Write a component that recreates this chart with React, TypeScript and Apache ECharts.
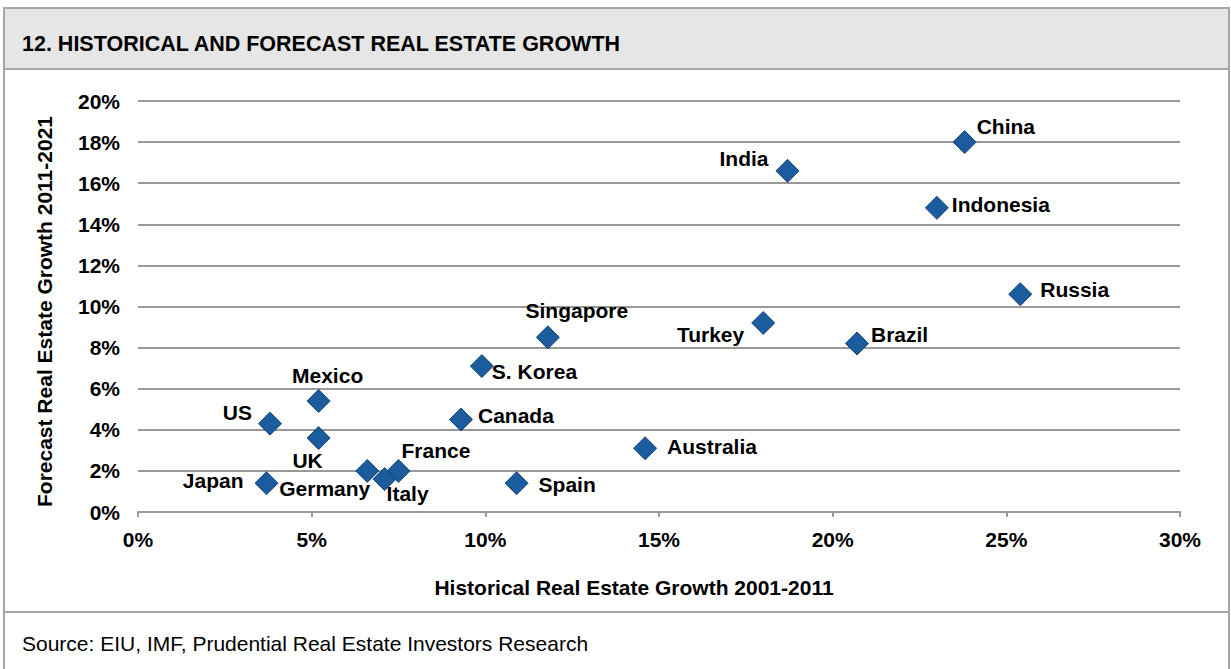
import React, { useEffect, useRef } from "react";
import * as echarts from "echarts";

const countries = ["China", "India", "Indonesia", "Russia", "Brazil", "Turkey", "Singapore", "S. Korea", "Canada", "Australia", "Spain", "Mexico", "US", "UK", "Japan", "Germany", "Italy", "France"];
const historical = [23.8, 18.7, 23.0, 25.4, 20.7, 18.0, 11.8, 9.9, 9.3, 14.6, 10.9, 5.2, 3.8, 5.2, 3.7, 6.6, 7.1, 7.5];
const forecast = [18.0, 16.6, 14.8, 10.6, 8.2, 9.2, 8.5, 7.1, 4.5, 3.1, 1.4, 5.4, 4.3, 3.6, 1.4, 2.0, 1.6, 2.0];
const xTicks = [0, 5, 10, 15, 20, 25, 30];
const yTicks = [0, 2, 4, 6, 8, 10, 12, 14, 16, 18, 20];

const title = "12. HISTORICAL AND FORECAST REAL ESTATE GROWTH";
const xName = "Historical Real Estate Growth 2001-2011";
const yName = "Forecast Real Estate Growth 2011-2021";
const source = "Source: EIU, IMF, Prudential Real Estate Investors Research";

// label placement: [align, dx, dy]
const labelLayout: Record<string, [string, number, number]> = {
  China: ["left", 12, -16],
  India: ["right", -19, -12],
  Indonesia: ["left", 15, -3],
  Russia: ["left", 20, -5],
  Brazil: ["left", 14, -9],
  Turkey: ["right", -19, 12],
  Singapore: ["center", 29, -27],
  "S. Korea": ["left", 10, 5],
  Canada: ["left", 17, -4],
  Australia: ["left", 22, -2],
  Spain: ["left", 22, 1],
  Mexico: ["center", 9, -26],
  US: ["right", -18, -11],
  UK: ["center", -11, 22],
  Japan: ["right", -23, -3],
  Germany: ["right", 3, 18],
  Italy: ["left", 2, 14],
  France: ["left", 3, -20],
};

const FONT = "'Liberation Sans', Arial, sans-serif";
const FS = 21;

export default function App() {
  const ref = useRef<HTMLDivElement>(null);
  useEffect(() => {
    if (!ref.current) return;
    const chart = echarts.init(ref.current, null, { renderer: "svg" });
    const data = countries.map((name, i) => {
      const [align, dx, dy] = labelLayout[name];
      return {
        name,
        value: [historical[i], forecast[i]],
        label: { align, offset: [dx, dy] },
      };
    });
    chart.setOption({
      animation: false,
      backgroundColor: "#ffffff",
      textStyle: { fontFamily: FONT },
      grid: { left: 138, right: 51, top: 101, bottom: 157, containLabel: false },
      xAxis: {
        type: "value",
        min: 0,
        max: 30,
        interval: 5,
        name: xName,
        nameLocation: "middle",
        nameGap: 65,
        nameTextStyle: {
          fontFamily: FONT,
          fontWeight: "bold",
          fontSize: FS,
          color: "#000",
          padding: [0, 50, 0, 0],
        },
        axisLine: { show: true, lineStyle: { color: "#999", width: 2 } },
        axisTick: { show: true, length: 5, inside: false, lineStyle: { color: "#999", width: 2 } },
        axisLabel: {
          formatter: (v: number) => (xTicks.includes(v) ? v + "%" : ""),
          fontFamily: FONT,
          fontWeight: "bold",
          fontSize: FS,
          color: "#000",
          margin: 17,
        },
        splitLine: { show: false },
      },
      yAxis: {
        type: "value",
        min: 0,
        max: 20,
        interval: 2,
        name: yName,
        nameLocation: "middle",
        nameGap: 83,
        nameTextStyle: {
          fontFamily: FONT,
          fontWeight: "bold",
          fontSize: FS,
          color: "#000",
          padding: [0, 10, 0, 0],
        },
        axisLine: { show: false },
        axisTick: { show: false },
        axisLabel: {
          formatter: (v: number) => (yTicks.includes(v) ? v + "%" : ""),
          fontFamily: FONT,
          fontWeight: "bold",
          fontSize: FS,
          color: "#000",
          margin: 18,
        },
        splitLine: { show: true, lineStyle: { color: "#999", width: 2 } },
      },
      series: [
        {
          type: "scatter",
          symbol: "diamond",
          symbolSize: 23,
          itemStyle: { color: "#1a5c9e", borderColor: "#1a4576", borderWidth: 1, opacity: 1 },
          label: {
            show: true,
            position: "inside",
            formatter: (p: any) => p.name,
            fontFamily: FONT,
            fontWeight: "bold",
            fontSize: FS,
            color: "#000",
            verticalAlign: "middle",
          },
          emphasis: { disabled: true },
          data,
        },
      ],
      graphic: [
        {
          type: "rect",
          z: -10,
          shape: { x: 4, y: 8, width: 1225, height: 60 },
          style: { fill: "#e6e6e6" },
          silent: true,
        },
        {
          type: "rect",
          z: 100,
          shape: { x: 4, y: 8, width: 1225, height: 662 },
          style: { fill: "none", stroke: "#a6a6a6", lineWidth: 2 },
          silent: true,
        },
        {
          type: "line",
          z: 100,
          shape: { x1: 4, y1: 69, x2: 1229, y2: 69 },
          style: { stroke: "#a6a6a6", lineWidth: 2 },
          silent: true,
        },
        {
          type: "line",
          z: 100,
          shape: { x1: 4, y1: 612, x2: 1229, y2: 612 },
          style: { stroke: "#a6a6a6", lineWidth: 2 },
          silent: true,
        },
        {
          type: "text",
          x: 22,
          y: 44,
          style: {
            text: title,
            font: `bold 21.5px ${FONT}`,
            fill: "#000",
            verticalAlign: "middle",
          },
          silent: true,
        },
        {
          type: "text",
          x: 22,
          y: 643,
          style: {
            text: source,
            font: `${FS}px ${FONT}`,
            fill: "#000",
            verticalAlign: "middle",
          },
          silent: true,
        },
      ],
    });
    return () => chart.dispose();
  }, []);
  return (
    <div
      ref={ref}
      style={{ position: "fixed", left: 0, top: 0, width: 1231, height: 669, background: "#fff" }}
    />
  );
}
